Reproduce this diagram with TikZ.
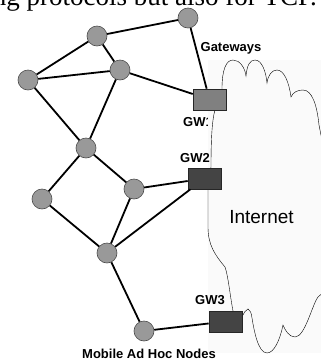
\documentclass[tikz,border=0pt]{standalone}
\usepackage{fontspec}
\setmainfont{Liberation Sans}
\setsansfont{Liberation Sans}
\newfontfamily\serifschrift{Liberation Serif}
\usetikzlibrary{arrows.meta}
\definecolor{knoten}{RGB}{153,153,153}
\definecolor{gwhell}{RGB}{128,128,128}
\definecolor{gwdunkel}{RGB}{68,68,68}
\definecolor{wolke}{RGB}{250,250,250}

\begin{document}
\begin{tikzpicture}[x=1pt, y=-1pt,
    kreis/.style={circle, fill=knoten, draw=black!70, line width=0.6pt, minimum size=20pt, inner sep=0pt},
    gwbox/.style={rectangle, draw=black!85, line width=0.6pt, minimum width=33pt, minimum height=21pt, inner sep=0pt},
    kante/.style={line width=1.8pt},
    beschr/.style={font=\sffamily\bfseries\fontsize{13}{15}\selectfont, inner sep=0pt}]

    \useasboundingbox (0,0) rectangle (321,360);
    \clip (0,0) rectangle (321,360);

    % abgeschnittene Textzeile oben
    \node[anchor=base east, inner sep=0pt, font=\serifschrift\fontsize{27}{30}\selectfont] (kopf) at (317,5.5) {ng protocols but also for TCP.};

    \node[beschr, anchor=base west] (lgw1) at (183,126) {GW1};

    % Hintergrund und Wolke
    \fill[wolke] (208,60) rectangle (321,353);
    \draw[thin, fill=wolke] (222,89) .. controls (222,70) and (226,60) .. (233,60)
        .. controls (240,60) and (245,68) .. (246,76)
        .. controls (247,65) and (250,60) .. (255,60)
        .. controls (262,60) and (266,72) .. (267,83)
        .. controls (268,75) and (272,70) .. (277,70)
        .. controls (284,70) and (289,82) .. (291,97)
        .. controls (293,92) and (298,90) .. (303,90)
        .. controls (312,90) and (317,105) .. (319,125)
        .. controls (322,140) and (326,160) .. (328,180) -- (328,280)
        .. controls (326,290) .. (318,297)
        .. controls (312,305) and (305,337) .. (295,337)
        .. controls (289,337) and (285,330) .. (283,325)
        .. controls (280,340) and (274,353) .. (267,353)
        .. controls (258,353) and (254,330) .. (252,318)
        .. controls (251,312) .. (248,309)
        .. controls (245,311) .. (242,317) -- (233,311)
        .. controls (230,295) and (228,275) .. (225,267)
        .. controls (215,255) and (208,245) .. (208,227)
        .. controls (208,210) and (208,195) .. (208,190) -- (211,167)
        .. controls (211,140) and (212,120) .. (215,110) -- cycle;
    \node[font=\sffamily\fontsize{19}{22}\selectfont, anchor=base, inner sep=0pt] (inet) at (261.5,223) {Internet};

    % mobile Knoten
    \node[kreis] (a) at (188,18) {};
    \node[kreis] (b) at (97,36) {};
    \node[kreis] (c) at (120,70) {};
    \node[kreis] (d) at (28,80) {};
    \node[kreis] (e) at (86,148) {};
    \node[kreis] (f) at (42,199) {};
    \node[kreis] (g) at (134,189) {};
    \node[kreis] (h) at (107,253) {};
    \node[kreis] (i) at (144,331) {};

    % Gateways
    \node[gwbox, fill=gwhell] (gw1) at (209.5,99.5) {};
    \node[gwbox, fill=gwdunkel] (gw2) at (204.5,178.5) {};
    \node[gwbox, fill=gwdunkel] (gw3) at (225.5,321.5) {};

    \foreach \von/\nach in {b/a, a/gw1, b/d, b/c, d/c, c/gw1, d/e, c/e, e/f, e/g, g/gw2, f/h, g/h, h/gw2, h/i, i/gw3}
        \draw[kante] (\von) -- (\nach);

    \node[beschr, anchor=base west] (lgw2) at (180,162) {GW2};
    \node[beschr, anchor=base west] (lgw3) at (195,304) {GW3};
    \node[beschr, anchor=base] (lgate) at (231,51) {Gateways};
    \node[beschr, anchor=base] (lmobil) at (149,358) {Mobile Ad Hoc Nodes};

\end{tikzpicture}
\end{document}
